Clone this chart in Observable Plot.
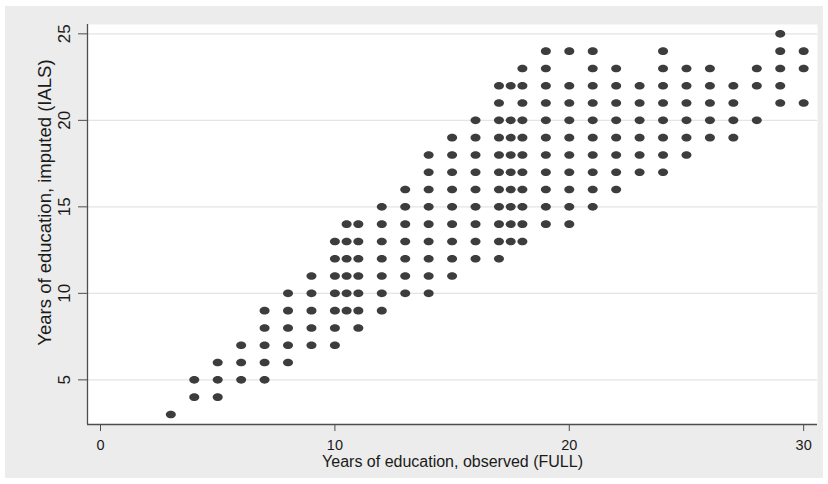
<!DOCTYPE html>
<html>
<head>
<meta charset="utf-8">
<script src="https://cdn.jsdelivr.net/npm/d3@7"></script>
<script src="https://cdn.jsdelivr.net/npm/@observablehq/plot@0.6"></script>
<style>
  html, body { margin: 0; padding: 0; background: #ffffff; }
  #wrap { width: 828px; height: 484px; box-sizing: border-box; padding: 6px 5px; background: #ffffff; }
  #wrap svg { display: block; background: #ececec; }
</style>
</head>
<body>
<div id="wrap"></div>
<script>
// Observed years of education (FULL), one entry per column of points
const observed = [3, 4, 5, 6, 7, 8, 9, 10, 10.5, 11, 12, 13, 14, 15, 16, 17, 17.5, 18, 19, 20, 21, 22, 23, 24, 25, 26, 27, 28, 29, 30];
// Imputed years of education (IALS) found at each observed value
const imputed = [
  [3],
  [4, 5],
  [4, 5, 6],
  [5, 6, 7],
  [5, 6, 7, 8, 9],
  [6, 7, 8, 9, 10],
  [7, 8, 9, 10, 11],
  [7, 8, 9, 10, 11, 12, 13],
  [9, 10, 11, 12, 13, 14],
  [8, 9, 10, 11, 12, 13, 14],
  [9, 10, 11, 12, 13, 14, 15],
  [10, 11, 12, 13, 14, 15, 16],
  [10, 11, 12, 13, 14, 15, 16, 17, 18],
  [11, 12, 13, 14, 15, 16, 17, 18, 19],
  [12, 13, 14, 15, 16, 17, 18, 19, 20],
  [12, 13, 14, 15, 16, 17, 18, 19, 20, 21, 22],
  [13, 14, 15, 16, 17, 18, 19, 20, 22],
  [13, 14, 15, 16, 17, 18, 19, 20, 21, 22, 23],
  [14, 15, 16, 17, 18, 19, 20, 21, 22, 23, 24],
  [14, 15, 16, 17, 18, 19, 20, 21, 22, 24],
  [15, 16, 17, 18, 19, 20, 21, 22, 23, 24],
  [16, 17, 18, 19, 20, 21, 22, 23],
  [17, 18, 19, 20, 21, 22],
  [17, 18, 19, 20, 21, 22, 23, 24],
  [18, 19, 20, 21, 22, 23],
  [19, 20, 21, 22, 23],
  [19, 20, 21, 22],
  [20, 22, 23],
  [21, 22, 23, 24, 25],
  [21, 23, 24]
];
const xTicks = [0, 10, 20, 30];
const yTicks = [5, 10, 15, 20, 25];
const xTitle = "Years of education, observed (FULL)";
const yTitle = "Years of education, imputed (IALS)";

const points = observed.flatMap((x, i) => imputed[i].map(y => ({x, y})));

const xDomain = [-0.555, 30.59];
const yDomain = [2.42, 25.54];

// ellipse-shaped marker (Stata-style)
const ellipse = {
  draw(context) {
    const rx = 5, ry = 3.8, k = 0.5523;
    context.moveTo(rx, 0);
    context.bezierCurveTo(rx, ry * k, rx * k, ry, 0, ry);
    context.bezierCurveTo(-rx * k, ry, -rx, ry * k, -rx, 0);
    context.bezierCurveTo(-rx, -ry * k, -rx * k, -ry, 0, -ry);
    context.bezierCurveTo(rx * k, -ry, rx, -ry * k, rx, 0);
    context.closePath();
  }
};

const axisColor = "#4e4e4e";
const textColor = "#1a1a1a";
const font = "Liberation Sans, Arial, Helvetica, sans-serif";

const chart = Plot.plot({
  width: 818,
  height: 472,
  marginLeft: 82,
  marginRight: 6,
  marginTop: 18,
  marginBottom: 54,
  style: {fontFamily: font, fontSize: "15px", color: textColor, background: "#ececec"},
  x: {domain: xDomain, label: null},
  y: {domain: yDomain, label: null},
  marks: [
    Plot.frame({fill: "white", stroke: null}),
    Plot.gridY(yTicks, {stroke: "#e4e4e4", strokeOpacity: 1, strokeWidth: 1.2}),
    Plot.dot(points, {x: "x", y: "y", symbol: ellipse, fill: "#3d3d3d", stroke: null}),
    Plot.ruleX([xDomain[0]], {stroke: axisColor, strokeWidth: 1.3}),
    Plot.ruleY([yDomain[0]], {stroke: axisColor, strokeWidth: 1.3}),
    Plot.axisX(xTicks, {tickSize: 7, tickPadding: 8, stroke: axisColor, fill: textColor, fontSize: 14.5, label: null}),
    Plot.axisY(yTicks, {tickSize: 9, tickPadding: 9, tickRotate: -90, stroke: axisColor, fill: textColor, fontSize: 17, label: null}),
    Plot.text([xTitle], {frameAnchor: "bottom", dy: 42, text: d => d, fontSize: 16, fill: textColor}),
    Plot.text([yTitle], {frameAnchor: "left", textAnchor: "middle", dx: -42, dy: -22, rotate: -90, text: d => d, fontSize: 18.5, fill: textColor})
  ]
});
document.getElementById("wrap").appendChild(chart);
</script>
</body>
</html>
